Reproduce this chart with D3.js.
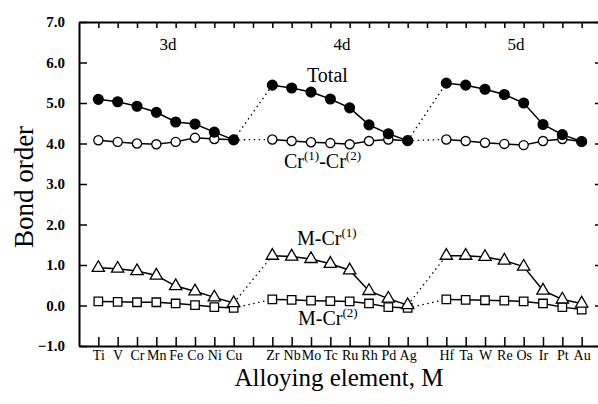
<!DOCTYPE html>
<html lang="en">
<head>
<meta charset="UTF-8">
<title>Bond order</title>
<style>
  body { margin: 0; background: #fff; }
  svg text { font-family: "Liberation Serif", "Times New Roman", serif; fill: #000; }
</style>
</head>
<body>
<svg id="chart" width="598" height="404"></svg>
<script src="https://d3js.org/d3.v7.min.js"></script>
<script>

// series grouped by transition row
const groups = ["3d", "4d", "5d"];
const elements = [
    ["Ti", "V", "Cr", "Mn", "Fe", "Co", "Ni", "Cu"],
    ["Zr", "Nb", "Mo", "Tc", "Ru", "Rh", "Pd", "Ag"],
    ["Hf", "Ta", "W", "Re", "Os", "Ir", "Pt", "Au"]
];
const total = [
    [5.09, 5.03, 4.92, 4.77, 4.53, 4.48, 4.28, 4.09],
    [5.44, 5.37, 5.27, 5.10, 4.88, 4.46, 4.24, 4.07],
    [5.49, 5.44, 5.34, 5.21, 5.00, 4.47, 4.22, 4.05]
];
const crcr = [
    [4.08, 4.04, 4.00, 3.98, 4.04, 4.14, 4.11, 4.09],
    [4.10, 4.06, 4.03, 4.01, 3.98, 4.06, 4.10, 4.07],
    [4.10, 4.06, 4.02, 3.99, 3.96, 4.06, 4.11, 4.05]
];
const mcr1 = [
    [0.93, 0.91, 0.85, 0.74, 0.48, 0.35, 0.20, 0.06],
    [1.23, 1.21, 1.15, 1.03, 0.87, 0.36, 0.17, 0.01],
    [1.23, 1.23, 1.20, 1.11, 0.96, 0.37, 0.15, 0.05]
];
const mcr2 = [
    [0.10, 0.09, 0.08, 0.08, 0.05, 0.01, -0.04, -0.06],
    [0.15, 0.14, 0.12, 0.11, 0.10, 0.05, -0.04, -0.06],
    [0.15, 0.14, 0.13, 0.12, 0.10, 0.05, -0.04, -0.10]
];
const yTicks = [-1, 0, 1, 2, 3, 4, 5, 6, 7];

// slots on the x axis: each row plus one empty slot between rows
let slots = [];
elements.forEach((row, g) => {
    row.forEach(e => slots.push(e));
    if (g < elements.length - 1) slots.push("gap" + g);
});

let margin = {top: 22, right: -3, bottom: 58, left: 79};
let width = 598 - margin.left - margin.right,
    height = 404 - margin.top - margin.bottom;

let svg = d3.select("#chart");
let chart = svg.append("g")
    .attr("transform", "translate(" + margin.left + "," + margin.top + ")");

let x = d3.scalePoint()
    .domain(slots)
    .range([0, width])
    .padding(1);
let y = d3.scaleLinear()
    .domain([-1, 7])
    .range([height, 0]);

// frame
chart.append("g")
    .attr("transform", "translate(0," + height + ")")
    .call(d3.axisBottom(x).tickSizeInner(-9).tickSizeOuter(0).tickPadding(4)
        .tickFormat(d => d.startsWith("gap") ? "" : d))
    .call(g => g.selectAll("text").attr("font-size", 14).attr("font-family", null));
chart.append("g")
    .call(d3.axisTop(x).tickSizeInner(-6).tickSizeOuter(0).tickFormat(""));
chart.append("g")
    .call(d3.axisLeft(y).tickValues(yTicks).tickSizeInner(-8).tickSizeOuter(0).tickPadding(14)
        .tickFormat(d3.format(".1f")))
    .call(g => g.selectAll("text").attr("font-size", 15).attr("font-weight", "bold").attr("font-family", null));
chart.append("g")
    .attr("transform", "translate(" + width + ",0)")
    .call(d3.axisRight(y).tickValues(yTicks).tickSizeInner(-6).tickSizeOuter(0).tickFormat(""));
chart.selectAll(".domain").attr("stroke-width", 2);
chart.selectAll(".tick line").attr("stroke-width", 1.5);

function pts(series) {
    return series.map((row, g) => row.map((v, i) => ({x: x(elements[g][i]), y: y(v)})));
}

let line = d3.line().x(d => d.x).y(d => d.y);

function drawSeries(series) {
    let p = pts(series);
    let s = chart.append("g");
    p.forEach(row => {
        s.append("path").attr("d", line(row))
            .attr("fill", "none").attr("stroke", "#000").attr("stroke-width", 1.5);
    });
    for (let g = 0; g < p.length - 1; g++) {
        s.append("path").attr("d", line([p[g][p[g].length - 1], p[g + 1][0]]))
            .attr("fill", "none").attr("stroke", "#000").attr("stroke-width", 1.3)
            .attr("stroke-dasharray", "1.5,3.5");
    }
    return p.flat();
}

function drawMarkers(points, type, size, fill) {
    chart.append("g").selectAll("path")
        .data(points)
        .enter()
        .append("path")
        .attr("transform", d => "translate(" + d.x + "," + d.y + ")")
        .attr("d", d3.symbol().type(type).size(size))
        .attr("fill", fill)
        .attr("stroke", "#000")
        .attr("stroke-width", 1.3);
}

let pCr = drawSeries(crcr);
let pTot = drawSeries(total);
let pM2 = drawSeries(mcr2);
let pM1 = drawSeries(mcr1);
drawMarkers(pCr, d3.symbolCircle, 66, "#fff");
drawMarkers(pTot, d3.symbolCircle, 76, "#000");
drawMarkers(pM2, d3.symbolSquare, 72, "#fff");
drawMarkers(pM1, d3.symbolTriangle, 66, "#fff");

// group labels
chart.selectAll(".grp")
    .data(groups)
    .enter()
    .append("text")
    .attr("x", (d, g) => (x(elements[g][0]) + x(elements[g][7])) / 2 + 2)
    .attr("y", 28)
    .attr("text-anchor", "middle")
    .attr("font-size", 17)
    .text(d => d);

// series labels
function label(xp, yp, parts) {
    let t = svg.append("text").attr("x", xp).attr("y", yp).attr("font-size", 20);
    parts.forEach(p => {
        if (p.sup) {
            t.append("tspan").attr("dy", -8).attr("font-size", 13).text(p.t);
        } else {
            t.append("tspan").attr("dy", p.after ? 8 : 0).text(p.t);
        }
    });
}
label(307, 82, [{t: "Total"}]);
label(284, 168, [{t: "Cr"}, {t: "(1)", sup: true}, {t: "-Cr", after: true}, {t: "(2)", sup: true}]);
label(297, 245, [{t: "M-Cr"}, {t: "(1)", sup: true}]);
label(298, 325, [{t: "M-Cr"}, {t: "(2)", sup: true}]);

// axis titles
svg.append("text")
    .attr("transform", "translate(33,187) rotate(-90)")
    .attr("text-anchor", "middle")
    .attr("font-size", 27)
    .text("Bond order");
svg.append("text")
    .attr("x", 339)
    .attr("y", 386)
    .attr("text-anchor", "middle")
    .attr("font-size", 25)
    .text("Alloying element, M");

</script>
</body>
</html>
